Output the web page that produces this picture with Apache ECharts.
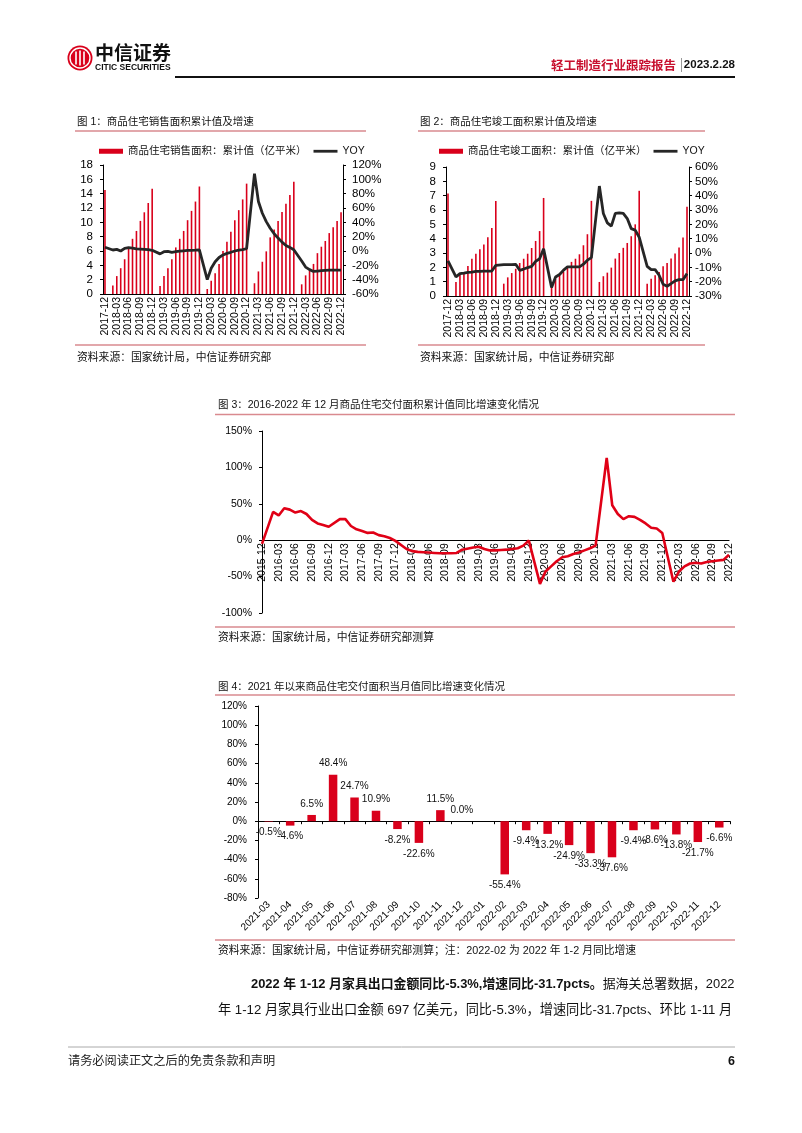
<!DOCTYPE html>
<html><head><meta charset="utf-8">
<script src="https://cdn.jsdelivr.net/npm/echarts@6/dist/echarts.min.js"></script>
<style>html,body{margin:0;padding:0;background:#fff}#c{width:802px;height:1133px}</style>
</head><body><div id="c"></div>
<script>
function monthRange(sy, sm, ey, em) {
  const out = []; let y = sy, m = sm;
  while (y < ey || (y === ey && m <= em)) { out.push(y + '-' + String(m).padStart(2, '0')); m++; if (m > 12) { m = 1; y++; } }
  return out;
}
// ---- Chart 1 / 2 categories: 2017-12 .. 2022-12
const months1 = monthRange(2017, 12, 2022, 12);
// 商品住宅销售面积：累计值（亿平米）
const salesArea = [14.5,
  null,1.2,2.5,3.6,4.85,6.5,7.7,8.8,10.2,11.4,12.7,14.7,
  null,1.1,2.5,3.6,4.85,6.5,7.7,8.8,10.3,11.6,12.9,15.0,
  null,0.7,1.86,2.9,4.2,6.0,7.3,8.7,10.3,11.7,13.2,15.4,
  null,1.5,3.15,4.5,5.95,7.9,9.0,10.2,11.45,12.6,13.8,15.65,
  null,1.35,2.6,3.3,4.2,5.7,6.6,7.4,8.5,9.3,10.2,11.4];
const salesYoy = [5.3,
  null,1.4,2.3,0.0,3.7,4.6,4.0,3.0,2.7,2.3,1.8,1.0,
  null,-4.0,-1.0,-0.5,-1.8,-1.0,-0.3,0.3,0.8,1.0,1.2,1.5,
  null,-40,-24,-15,-9,-5.5,-3.3,-1.8,0,1.2,2.0,3.2,
  null,108,69,52.7,41,31.8,24,18,12.4,7.7,5,1.7,
  null,-14,-22.4,-26,-28.5,-28,-27.5,-27,-26.8,-26.6,-26.6,-26.8];
// 商品住宅竣工面积：累计值（亿平米）
const compArea = [7.15,
  null,0.98,1.5,1.6,2.1,2.6,2.95,3.26,3.6,4.1,4.74,6.63,
  null,0.86,1.3,1.6,1.9,2.3,2.6,2.95,3.35,3.84,4.53,6.84,
  null,0.75,1.2,1.45,1.68,2.03,2.38,2.6,2.91,3.54,4.31,6.64,
  null,0.98,1.38,1.63,1.98,2.61,3.0,3.36,3.7,4.17,5.0,7.34,
  null,0.86,1.21,1.45,1.68,2.07,2.3,2.61,2.96,3.38,4.08,6.22];
const compYoy = [-5.5,
  null,-16.7,-14.4,-14,-13.5,-13.3,-12.8,-12.8,-12.6,-12.6,-12.6,-8.6,
  null,-8.1,-8.1,-8.1,-7.9,-12.1,-11.2,-10.2,-9.3,-5.8,-4.0,3.0,
  null,-24,-16.7,-15,-12,-9.7,-9.7,-9.7,-9.7,-7.8,-5,-3.2,
  null,46.7,27.6,21,18.7,27.6,28,27.6,24,17,16,11,
  null,-9.3,-11.6,-11.6,-15.5,-21.8,-23.2,-21.4,-19.5,-18.6,-18.6,-14.4];
// ---- Chart 3: 2015-12 .. 2022-12 商品住宅交付面积累计值同比
const months3 = monthRange(2015, 12, 2022, 12);
const deliveryYoy = [-5,
  null,39,34,44,42,38,40,36,28,23,21,18.5,
  null,29,29,19.5,15,12.5,10,10.5,7,5.5,3,-1,
  null,-12,-15,-16,-16.5,-17,-17.5,-18,-18,-18,-17.5,-13,
  null,-10,-9,-12,-14,-14,-13.5,-13,-12,-11,-7.5,-0.5,
  null,-60,-43,-36,-29,-23.5,-22,-19,-17,-14,-11,-7.5,
  null,113,48,36,29,33,32,28,23,17,16,10,
  null,-57,-43,-36,-32,-31,-32,-30,-29,-28,-27,-20];
// ---- Chart 4: 2021-03 .. 2022-12 当月值同比
const months4 = monthRange(2021, 3, 2022, 12);
const deliveryMonthYoy = [-0.5,-4.6,6.5,48.4,24.7,10.9,-8.2,-22.6,11.5,0.0,null,-55.4,-9.4,-13.2,-24.9,-33.3,-37.6,-9.4,-8.6,-13.8,-21.7,-6.6];

const salesName = '商品住宅销售面积：累计值（亿平米）';
const compName = '商品住宅竣工面积：累计值（亿平米）';

const FONT = "'Liberation Sans', 'Noto Sans CJK SC', sans-serif";
const RED = '#d9001b';
const BLACK = '#000';
const PINK = '#d98a8f';
const LINE_ICON = 'path://M0 0H24V2.8H0Z';

function yAxis(gi, min, max, interval, pos, pct, margin, fs) {
  return {
    type: 'value', gridIndex: gi, min: min, max: max, interval: interval, position: pos,
    axisLine: { show: true, lineStyle: { color: BLACK, width: 1 } },
    axisTick: { show: true, length: 3, lineStyle: { color: BLACK } },
    splitLine: { show: false },
    axisLabel: { color: BLACK, fontFamily: FONT, fontSize: fs, margin: margin, formatter: pct ? '{value}%' : '{value}' }
  };
}
function catAxis(gi, data, opts) {
  return Object.assign({
    type: 'category', gridIndex: gi, data: data,
    axisLine: { show: true, lineStyle: { color: BLACK, width: 1 } },
    axisTick: { show: false },
    splitLine: { show: false },
    axisLabel: { color: BLACK, fontFamily: FONT, fontSize: 10.5, rotate: 90, interval: 2, margin: 3 }
  }, opts);
}

function txt(x, y, text, size, opts) {
  return { type: 'text', x: x, y: y, style: Object.assign({ text: text, fill: '#111', font: size + 'px ' + FONT, verticalAlign: 'middle', align: 'left' }, (opts || {})) };
}
function ln(x1, y1, x2, y2, color, w) {
  return { type: 'line', shape: { x1: x1, y1: y1, x2: x2, y2: y2 }, style: { stroke: color, lineWidth: w } };
}

const graphics = [
  // logo
  { type: 'circle', shape: { cx: 80, cy: 58, r: 12.5 }, style: { fill: RED } },
  { type: 'circle', shape: { cx: 80, cy: 58, r: 10 }, style: { fill: 'none', stroke: '#fff', lineWidth: 1.4 } },
  { type: 'rect', shape: { x: 75.2, y: 51.5, width: 1.6, height: 13 }, style: { fill: '#fff' } },
  { type: 'rect', shape: { x: 79.2, y: 50.5, width: 1.6, height: 15 }, style: { fill: '#fff' } },
  { type: 'rect', shape: { x: 83.2, y: 51.5, width: 1.6, height: 13 }, style: { fill: '#fff' } },
  txt(95, 53, '中信证券', 19, { font: 'bold 19px "Noto Sans CJK SC"', fill: '#111' }),
  txt(95, 67.5, 'CITIC SECURITIES', 8.5, { font: 'bold 8.5px ' + FONT, fill: '#111' }),
  // header right
  txt(676, 65, '轻工制造行业跟踪报告', 12.5, { font: 'bold 12.5px "Noto Sans CJK SC"', fill: '#c8102e', align: 'right' }),
  ln(681.5, 58, 681.5, 72, '#999', 1),
  txt(735, 65, '2023.2.28', 11, { font: 'bold 11.5px ' + FONT, fill: '#111', align: 'right' }),
  ln(175, 77, 735, 77, '#111', 2.2),
  // chart 1 frame texts
  txt(77, 122, '图 1：商品住宅销售面积累计值及增速', 10.5),
  ln(75, 131, 366, 131, PINK, 1.5),
  ln(75, 345, 366, 345, PINK, 1.5),
  txt(77, 358, '资料来源：国家统计局，中信证券研究部', 10.8),
  // chart 2 frame texts
  txt(420, 122, '图 2：商品住宅竣工面积累计值及增速', 10.5),
  ln(418, 131, 705, 131, PINK, 1.5),
  ln(418, 345, 705, 345, PINK, 1.5),
  txt(420, 358, '资料来源：国家统计局，中信证券研究部', 10.8),
  // chart 3
  txt(218, 405, '图 3：2016-2022 年 12 月商品住宅交付面积累计值同比增速变化情况', 10.5),
  ln(215, 414.5, 735, 414.5, PINK, 1.5),
  ln(215, 627, 735, 627, PINK, 1.5),
  txt(218, 638, '资料来源：国家统计局，中信证券研究部测算', 10.8),
  // chart 4
  txt(218, 687, '图 4：2021 年以来商品住宅交付面积当月值同比增速变化情况', 10.5),
  ln(215, 695, 735, 695, PINK, 1.5),
  ln(215, 940, 735, 940, PINK, 1.5),
  txt(218, 951, '资料来源：国家统计局，中信证券研究部测算；注：2022-02 为 2022 年 1-2 月同比增速', 10.8),
  // body
  { type: 'text', x: 251, y: 984, style: {
      text: '{b|2022 年 1-12 月家具出口金额同比-5.3%,增速同比-31.7pcts。}{n|据海关总署数据，2022}',
      verticalAlign: 'middle',
      rich: { b: { font: 'bold 12.9px ' + FONT, fill: '#111' }, n: { font: '12.9px ' + FONT, fill: '#111' } } } },
  txt(218, 1010, '年 1-12 月家具行业出口金额 697 亿美元，同比-5.3%，增速同比-31.7pcts、环比 1-11 月', 13.2),
  // footer
  ln(68, 1047, 735, 1047, '#aaa', 1),
  txt(68, 1062, '请务必阅读正文之后的免责条款和声明', 12.2, { fill: '#222' }),
  txt(735, 1062, '6', 12.5, { font: 'bold 12.5px ' + FONT, align: 'right' })
];

const chart = echarts.init(document.getElementById('c'), null, { renderer: 'canvas' });
chart.setOption({
  animation: false,
  backgroundColor: '#fff',
  textStyle: { fontFamily: FONT },
  grid: [
    { left: 103, right: 459, top: 165, bottom: 839, outerBoundsMode: 'none' },
    { left: 446, right: 113, top: 167, bottom: 837, outerBoundsMode: 'none' },
    { left: 262, right: 73, top: 431, bottom: 520, outerBoundsMode: 'none' },
    { left: 258, right: 72, top: 706, bottom: 235, outerBoundsMode: 'none' }
  ],
  legend: [
    { left: 99, top: 146, itemWidth: 24, itemHeight: 5, itemGap: 7, padding: 0,
      textStyle: { fontSize: 10.5, color: '#111', fontFamily: FONT },
      data: [{ name: salesName, icon: 'rect' }, { name: 'YOY', icon: LINE_ICON }] },
    { left: 439, top: 146, itemWidth: 24, itemHeight: 5, itemGap: 7, padding: 0,
      textStyle: { fontSize: 10.5, color: '#111', fontFamily: FONT },
      data: [{ name: compName, icon: 'rect' }, { name: 'YOY', icon: LINE_ICON }] }
  ],
  xAxis: [
    catAxis(0, months1),
    catAxis(1, months1),
    // chart 3: axis placed at the 0% level (grid height 182 → 0% lies 72.8px above the bottom)
    catAxis(2, months3, { boundaryGap: false, position: 'bottom', offset: -72.8,
      axisLine: { show: true, onZero: false, lineStyle: { color: BLACK, width: 1.2 } } }),
    { type: 'category', gridIndex: 3, data: months4, position: 'bottom',
      axisLine: { show: false, onZero: false }, axisTick: { show: false }, splitLine: { show: false },
      axisLabel: { color: BLACK, fontFamily: FONT, fontSize: 10, rotate: 45, interval: 0, margin: 5 } },
    { type: 'category', gridIndex: 3, data: months4, position: 'bottom',
      axisLine: { show: true, onZero: true, lineStyle: { color: BLACK, width: 1.2 } },
      axisTick: { show: true, interval: 0, length: 3, lineStyle: { color: BLACK } },
      splitLine: { show: false }, axisLabel: { show: false } }
  ],
  yAxis: [
    yAxis(0, 0, 18, 2, 'left', false, 10, 11.5),
    yAxis(0, -60, 120, 20, 'right', true, 9, 11.5),
    yAxis(1, 0, 9, 1, 'left', false, 10, 11.5),
    yAxis(1, -30, 60, 10, 'right', true, 6, 11.5),
    yAxis(2, -100, 150, 50, 'left', true, 10, 10.5),
    yAxis(3, -80, 120, 20, 'left', true, 11, 10)
  ],
  series: [
    { name: salesName, type: 'bar', xAxisIndex: 0, yAxisIndex: 0, data: salesArea, barWidth: 1.6,
      itemStyle: { color: RED } },
    { name: 'YOY', type: 'line', xAxisIndex: 0, yAxisIndex: 1, data: salesYoy, connectNulls: true,
      symbol: 'none', lineStyle: { color: '#262626', width: 2.8 }, itemStyle: { color: '#262626' }, z: 5 },
    { name: compName, type: 'bar', xAxisIndex: 1, yAxisIndex: 2, data: compArea, barWidth: 1.6,
      itemStyle: { color: RED } },
    { name: 'YOY', type: 'line', xAxisIndex: 1, yAxisIndex: 3, data: compYoy, connectNulls: true,
      symbol: 'none', lineStyle: { color: '#262626', width: 2.8 }, itemStyle: { color: '#262626' }, z: 5 },
    { name: '交付面积累计同比', type: 'line', xAxisIndex: 2, yAxisIndex: 4, data: deliveryYoy, connectNulls: true,
      symbol: 'none', lineStyle: { color: '#e00016', width: 2.6 }, itemStyle: { color: '#e00016' } },
    { name: '交付面积当月同比', type: 'bar', xAxisIndex: 3, yAxisIndex: 5, barWidth: 8.5,
      itemStyle: { color: RED },
      data: deliveryMonthYoy.map(v => v == null ? null : { value: v, label: { position: v >= 0 ? 'top' : 'bottom' } }),
      label: { show: true, distance: 6, color: '#111', fontFamily: FONT, fontSize: 10,
        formatter: p => p.value.toFixed(1) + '%' } }
  ],
  graphic: { elements: graphics }
});
</script></body></html>
